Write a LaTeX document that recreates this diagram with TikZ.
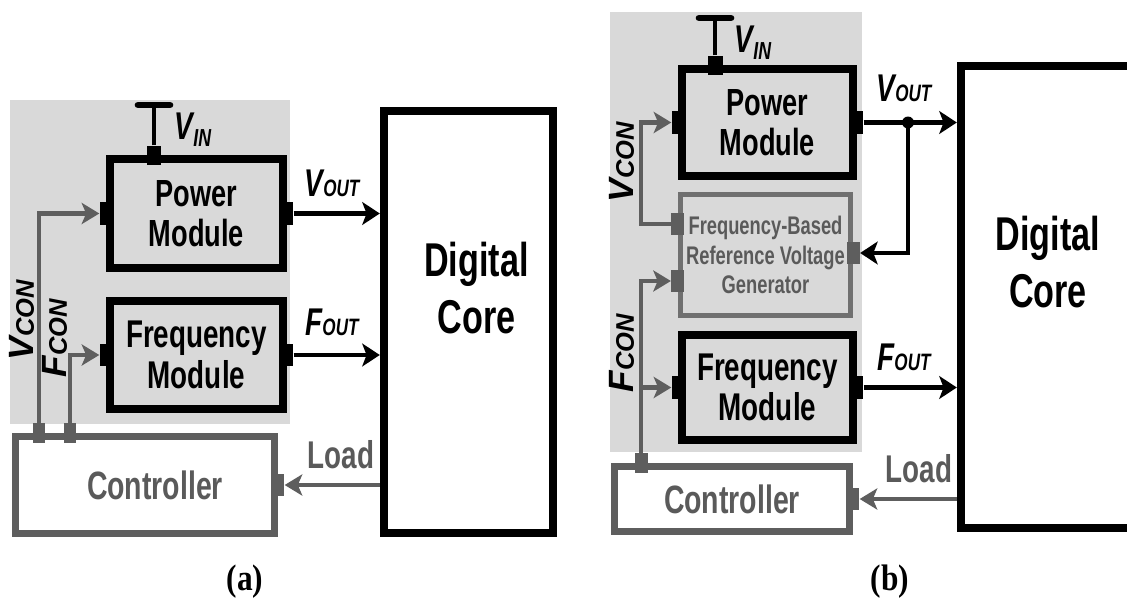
\documentclass[tikz,border=0pt]{standalone}
\usepackage{fontspec}
\setmainfont{Liberation Sans}[FakeStretch=0.72]
\newfontfamily\rotfont{Liberation Sans}
\newfontfamily\capfont{Liberation Serif}[FakeStretch=0.85]
\usetikzlibrary{arrows.meta}

\definecolor{panelgrey}{HTML}{D9D9D9}
\definecolor{wiregrey}{HTML}{5E5E5E}
\definecolor{textgrey}{HTML}{5A5A5A}
\definecolor{refgrey}{HTML}{707070}

% signal names: big letter + small caps-like tail
\newcommand{\hsig}[2]{{\bfseries\itshape\fontsize{22}{22}\selectfont #1\fontsize{13.5}{13.5}\selectfont #2}}
\newcommand{\vsig}[2]{{\rotfont\bfseries\itshape\fontsize{20}{20}\selectfont #1\fontsize{14.5}{14.5}\selectfont #2}}
\newcommand{\vinsig}{{\bfseries\itshape\fontsize{22}{22}\selectfont V\raisebox{-4pt}{\fontsize{14}{14}\selectfont IN}}}

\begin{document}
\begin{tikzpicture}[x=0.02cm,y=-0.02cm,
  box/.style={draw,line width=4.4pt,inner sep=0pt,align=center,fill=panelgrey},
  modtxt/.style={font=\bfseries\fontsize{21.5}{23}\selectfont},
  freqtxt/.style={font=\bfseries\fontsize{22}{23}\selectfont},
  ctrlbox/.style={draw=wiregrey,line width=3.8pt,fill=white,inner sep=0pt,text=textgrey,
    font=\bfseries\fontsize{22.5}{24}\selectfont},
  refbox/.style={draw=refgrey,line width=3.2pt,fill=panelgrey,inner sep=0pt,align=center,
    text=textgrey,font=\bfseries\fontsize{14.5}{16.7}\selectfont},
  corebox/.style={draw,line width=4.8pt,fill=white,inner sep=0pt},
  coretxt/.style={align=center,font=\bfseries\fontsize{27}{32}\selectfont},
  bport/.style={fill=black,inner sep=0pt,minimum width=0.26cm,minimum height=0.46cm},
  tport/.style={fill=black,inner sep=0pt,minimum width=0.3cm,minimum height=0.38cm},
  gport/.style={fill=wiregrey,inner sep=0pt,minimum width=0.26cm,minimum height=0.44cm},
  gtport/.style={fill=wiregrey,inner sep=0pt,minimum width=0.26cm,minimum height=0.4cm},
  barrow/.style={line width=2.8pt,-{Stealth[length=10pt,width=13pt,inset=2.5pt]}},
  garrow/.style={draw=wiregrey,line width=2.6pt,line join=miter,
    -{Stealth[length=10pt,width=12pt,inset=2.5pt,fill=wiregrey]}},
  bwire/.style={line width=2.8pt},
  bbar/.style={line width=3.8pt,line cap=round},
  loadtxt/.style={text=textgrey,font=\bfseries\fontsize{22}{22}\selectfont},
  captxt/.style={font=\capfont\bfseries\fontsize{21}{21}\selectfont}]
  \useasboundingbox (0,0) rectangle (1127,608);
  \clip (0,0) rectangle (1127,608);

  % (a)
  \fill[panelgrey] (10,100) rectangle (290,424);
  \node[box,modtxt,minimum width=3.46cm,minimum height=2.18cm] (pmA) at (196.5,213.5) {Power\\Module};
  \node[box,freqtxt,minimum width=3.46cm,minimum height=2.16cm] (fmA) at (196.5,355) {Frequency\\Module};
  \node[ctrlbox,minimum width=5.18cm,minimum height=1.94cm] (ctrlA) at (145,485) {\hspace{0.4cm}Controller};
  \node[corebox,minimum width=3.38cm,minimum height=8.44cm] (dcA) at (468.5,322) {};
  \node[coretxt] (dcAt) at ([xshift=0.16cm,yshift=0.68cm]dcA.center) {Digital\\Core};

  \node[tport] (pAvin) at (pmA.north -| 154,0) {};
  \node[bport] (pAvcon) at (pmA.west) {};
  \node[bport] (pAvout) at (pmA.east) {};
  \node[bport] (pAfcon) at (fmA.west) {};
  \node[bport] (pAfout) at (fmA.east) {};
  \node[gtport] (cAv) at (ctrlA.north -| 39,0) {};
  \node[gtport] (cAf) at (ctrlA.north -| 70,0) {};
  \node[gport] (cAl) at (ctrlA.east) {};
  \coordinate (vinA) at (154,105);

  \draw[bwire] (pAvin.north) -- (vinA);
  \draw[bbar] ([xshift=-0.32cm]vinA) -- ([xshift=0.32cm]vinA);
  \draw[garrow] (cAv.north) |- (pAvcon.west);
  \draw[garrow] (cAf.north) |- (pAfcon.west);
  \draw[barrow] (pAvout.east) -- (pAvout.east -| dcA.west);
  \draw[barrow] (pAfout.east) -- (pAfout.east -| dcA.west);
  \draw[garrow] (cAl.east -| dcA.west) -- (cAl.east);

  \node (vinAl) at (193,130) {\vinsig};
  \node (voA) at (332,183) {\hsig{V}{OUT}};
  \node (foA) at (332,322) {\hsig{F}{OUT}};
  \node[rotate=90] (vcA) at (22,320) {\vsig{V}{CON}};
  \node[rotate=90] (fcA) at (55,338) {\vsig{F}{CON}};
  \node[loadtxt] (ldA) at (341,455) {Load};
  \node[captxt] (capA) at (245,582) {(a)};

  % (b)
  \fill[panelgrey] (610,12) rectangle (862,452);
  \node[box,modtxt,minimum width=3.42cm,minimum height=2.14cm] (pmB) at (767.5,122.5) {Power\\Module};
  \node[refbox,minimum width=3.40cm,minimum height=2.42cm] (frB) at (765.5,255)
    {Frequency-Based\\Reference Voltage\\Generator};
  \node[box,freqtxt,minimum width=3.42cm,minimum height=2.10cm] (fmB) at (767.5,387.5) {Frequency\\Module};
  \node[ctrlbox,minimum width=4.70cm,minimum height=1.30cm] (ctrlB) at (732,499) {Controller};
  \node[corebox,minimum width=3.48cm,minimum height=9.24cm] (dcB) at (1048,297) {};
  \node[coretxt] (dcBt) at ([yshift=0.7cm]dcB.center) {Digital\\Core};

  \node[tport] (pBvin) at (pmB.north -| 715,0) {};
  \node[bport] (pBvcon) at (pmB.west) {};
  \node[bport] (pBvout) at (pmB.east) {};
  \node[gport] (rBv) at (frB.west |- 0,224) {};
  \node[gport] (rBf) at (frB.west |- 0,281) {};
  \node[gport] (rBo) at (frB.east |- 0,253) {};
  \node[bport] (pBfcon) at (fmB.west) {};
  \node[bport] (pBfout) at (fmB.east) {};
  \node[gtport] (cBf) at (ctrlB.north -| 641,0) {};
  \node[gport] (cBl) at (ctrlB.east) {};
  \coordinate (vinB) at (715,18);
  \coordinate (jB) at (pBvout.east -| 908,0);

  \draw[bwire] (pBvin.north) -- (vinB);
  \draw[bbar] ([xshift=-0.32cm]vinB) -- ([xshift=0.32cm]vinB);
  \draw[garrow] (rBv.west) -- (rBv.west -| cBf) |- (pBvcon.west);
  \draw[garrow] (cBf.north) |- (rBf.west);
  \draw[garrow] (cBf.north |- pBfcon) -- (pBfcon.west);
  \draw[barrow] (pBvout.east) -- (pBvout.east -| dcB.west);
  \fill (jB) circle (0.12cm);
  \draw[barrow,line join=miter] (jB) |- (rBo.east);
  \draw[barrow] (pBfout.east) -- (pBfout.east -| dcB.west);
  \draw[garrow] (cBl.east -| dcB.west) -- (cBl.east);

  \node (vinBl) at (753,43) {\vinsig};
  \node (voB) at (904,88) {\hsig{V}{OUT}};
  \node (foB) at (904,357) {\hsig{F}{OUT}};
  \node[rotate=90] (vcB) at (622,162) {\vsig{V}{CON}};
  \node[rotate=90] (fcB) at (622,353) {\vsig{F}{CON}};
  \node[loadtxt] (ldB) at (919,469) {Load};
  \node[captxt] (capB) at (890,582) {(b)};
\end{tikzpicture}
\end{document}
